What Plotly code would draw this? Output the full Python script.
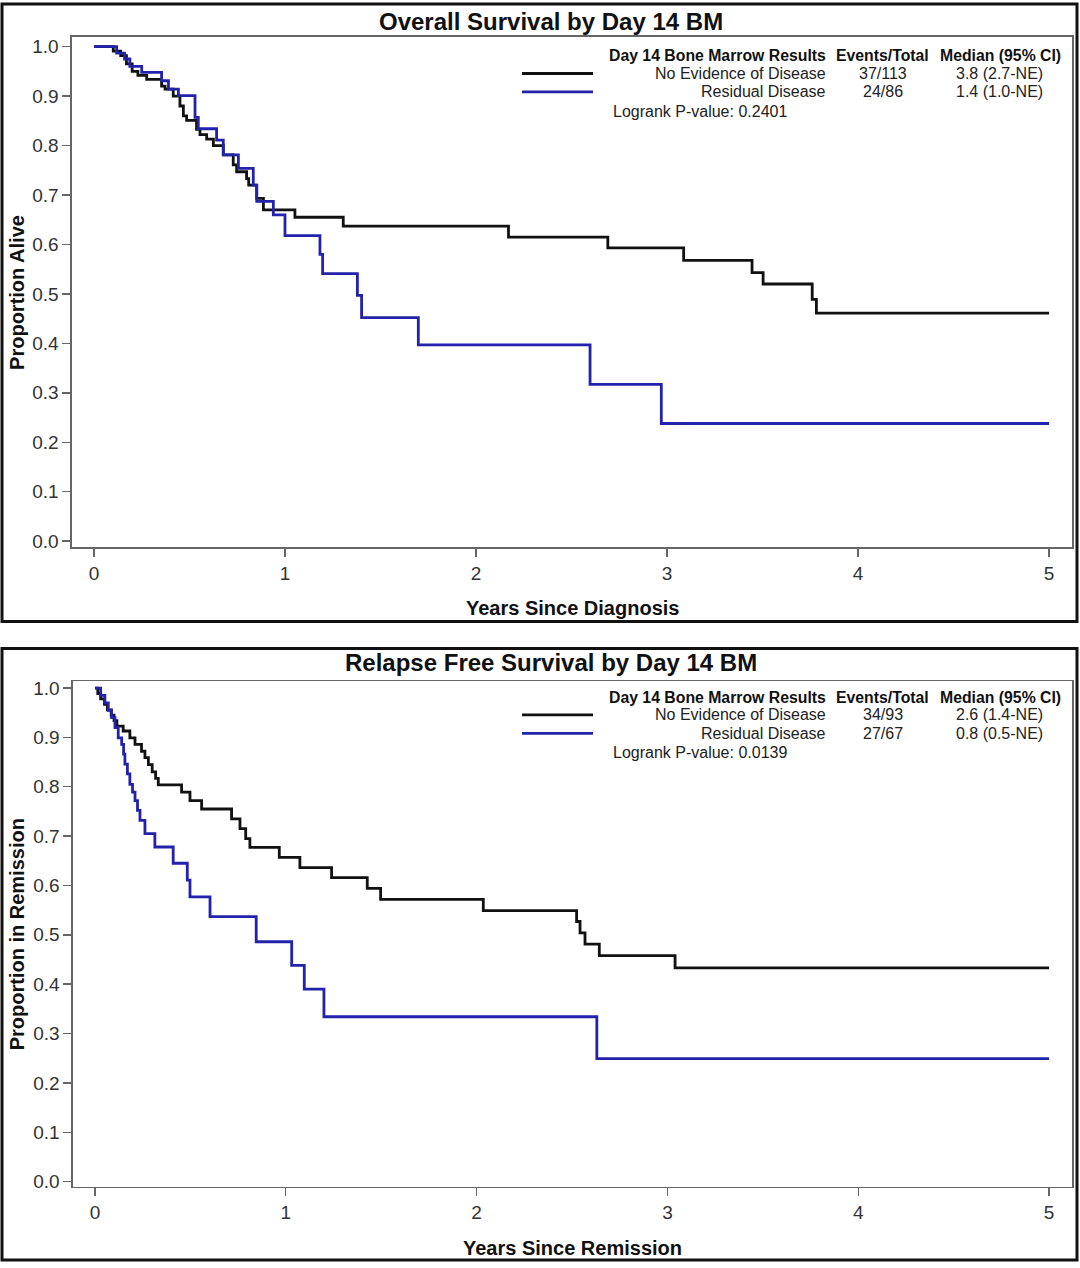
import plotly.graph_objects as go

W, H = 1080, 1268

# ---------------- data ----------------
os_no_t = [0.101, 0.140, 0.170, 0.200, 0.230, 0.276, 0.354, 0.372, 0.415, 0.450, 0.468, 0.485,
           0.537, 0.555, 0.590, 0.625, 0.677, 0.729, 0.747, 0.799, 0.810, 0.852, 0.887, 1.052,
           1.305, 2.170, 2.690, 3.087, 3.445, 3.503, 3.760, 3.782]
os_no_s = [0.991, 0.982, 0.965, 0.950, 0.942, 0.934, 0.920, 0.914, 0.900, 0.880, 0.860, 0.851,
           0.833, 0.822, 0.813, 0.800, 0.781, 0.761, 0.747, 0.733, 0.720, 0.693, 0.670, 0.655,
           0.637, 0.615, 0.593, 0.568, 0.543, 0.520, 0.489, 0.461]
os_res_t = [0.119, 0.160, 0.188, 0.250, 0.354, 0.390, 0.442, 0.529, 0.546, 0.642, 0.677, 0.756,
            0.834, 0.852, 0.939, 1.000, 1.183, 1.197, 1.379, 1.401, 1.698, 2.597, 2.970]
os_res_s = [0.987, 0.975, 0.960, 0.948, 0.931, 0.914, 0.901, 0.857, 0.834, 0.811, 0.781, 0.754,
            0.720, 0.687, 0.660, 0.618, 0.580, 0.541, 0.497, 0.452, 0.397, 0.317, 0.238]

rfs_no_t = [0.015, 0.030, 0.050, 0.065, 0.085, 0.100, 0.115, 0.148, 0.183, 0.210, 0.244, 0.262,
            0.280, 0.300, 0.318, 0.332, 0.454, 0.498, 0.559, 0.716, 0.760, 0.790, 0.812, 0.966,
            1.074, 1.240, 1.427, 1.497, 2.035, 2.524, 2.542, 2.568, 2.643, 3.040]
rfs_no_s = [0.989, 0.978, 0.967, 0.956, 0.945, 0.934, 0.923, 0.913, 0.899, 0.886, 0.872, 0.859,
            0.845, 0.830, 0.817, 0.804, 0.789, 0.772, 0.755, 0.735, 0.715, 0.695, 0.677, 0.657,
            0.636, 0.616, 0.594, 0.572, 0.549, 0.527, 0.504, 0.481, 0.458, 0.433]
rfs_res_t = [0.030, 0.052, 0.070, 0.087, 0.105, 0.122, 0.140, 0.150, 0.157, 0.170, 0.183, 0.197,
             0.210, 0.223, 0.236, 0.262, 0.314, 0.410, 0.484, 0.498, 0.603, 0.845, 1.031, 1.097,
             1.200, 2.630]
rfs_res_s = [0.985, 0.970, 0.955, 0.940, 0.920, 0.899, 0.886, 0.866, 0.846, 0.826, 0.805, 0.789,
             0.772, 0.752, 0.732, 0.705, 0.678, 0.645, 0.611, 0.577, 0.537, 0.486, 0.438, 0.390,
             0.334, 0.249]

x_end = 5.0
groups = ["No Evidence of Disease", "Residual Disease"]
os_events = ["37/113", "24/86"]
os_median = ["3.8 (2.7-NE)", "1.4 (1.0-NE)"]
os_p = "Logrank P-value: 0.2401"
rfs_events = ["34/93", "27/67"]
rfs_median = ["2.6 (1.4-NE)", "0.8 (0.5-NE)"]
rfs_p = "Logrank P-value: 0.0139"
titles = ["Overall Survival by Day 14 BM", "Relapse Free Survival by Day 14 BM"]
ytitles = ["Proportion Alive", "Proportion in Remission"]
xtitles = ["Years Since Diagnosis", "Years Since Remission"]
x_ticks = [0, 1, 2, 3, 4, 5]
y_ticks = [0.0, 0.1, 0.2, 0.3, 0.4, 0.5, 0.6, 0.7, 0.8, 0.9, 1.0]

BLACK = "#111111"
BLUE = "#2222aa"
FONT = "Liberation Sans, Arial, sans-serif"


def px(x):
    return x / W


def py(y):
    return 1 - y / H


def km(t, s):
    return [0] + list(t) + [x_end], [1.0] + list(s) + [s[-1]]


fig = go.Figure()

curves = [
    (os_no_t, os_no_s, BLACK, "x", "y"),
    (os_res_t, os_res_s, BLUE, "x", "y"),
    (rfs_no_t, rfs_no_s, BLACK, "x2", "y2"),
    (rfs_res_t, rfs_res_s, BLUE, "x2", "y2"),
]
for t, s, c, xa, ya in curves:
    xs, ys = km(t, s)
    fig.add_trace(go.Scatter(x=xs, y=ys, mode="lines", line=dict(color=c, width=2.8, shape="hv"),
                             xaxis=xa, yaxis=ya, showlegend=False, hoverinfo="skip"))

axis_common = dict(showgrid=False, zeroline=False, showline=True, mirror=True,
                   linecolor="#666666", linewidth=1.6, ticks="outside", ticklen=8,
                   tickwidth=1.4, tickcolor="#666666",
                   tickfont=dict(family=FONT, size=19, color="#333333"))

fig.update_layout(
    width=W, height=H, margin=dict(l=0, r=0, t=0, b=0),
    paper_bgcolor="white", plot_bgcolor="white",
    xaxis=dict(domain=[px(72), px(1072)], range=[-0.115, 5.12], tickvals=x_ticks, anchor="y",
               **axis_common),
    yaxis=dict(domain=[py(548), py(34)], range=[-0.012, 1.020], tickvals=y_ticks,
               tickformat=".1f", anchor="x", **axis_common),
    xaxis2=dict(domain=[px(73), px(1072)], range=[-0.115, 5.12], tickvals=x_ticks, anchor="y2",
                **axis_common),
    yaxis2=dict(domain=[py(1192), py(683)], range=[-0.010, 1.014], tickvals=y_ticks,
                tickformat=".1f", anchor="x2", **axis_common),
)

shapes = []
ann = []
# outer panel frames
for y0, y1 in [(1, 623), (650, 1266)]:
    shapes.append(dict(type="rect", xref="paper", yref="paper", x0=px(2), x1=px(1077),
                       y0=py(y1), y1=py(y0), line=dict(color="#111111", width=3)))


def text(x, y, s, size=15, bold=False, anchor="center", color="#222222", angle=0):
    ann.append(dict(x=px(x), y=py(y), xref="paper", yref="paper", text=(f"<b>{s}</b>" if bold else s),
                    showarrow=False, xanchor=anchor, yanchor="middle", textangle=angle,
                    font=dict(family=FONT, size=size, color=color)))


panels = [
    dict(title_y=19, leg_y=53, xt_y=609, ymid=292, events=os_events, median=os_median, p=os_p),
    dict(title_y=664, leg_y=699, xt_y=1254, ymid=938, events=rfs_events, median=rfs_median, p=rfs_p),
]
for i, p in enumerate(panels):
    text(551, p["title_y"], titles[i], size=24, bold=True, color="#111111")
    text(572, p["xt_y"], xtitles[i], size=20, bold=True, color="#111111")
    text(17, p["ymid"], ytitles[i], size=20, bold=True, color="#111111", angle=-90)
    ly = p["leg_y"]
    text(828, ly, "Day 14 Bone Marrow Results", size=15.8, bold=True, anchor="right", color="#111111")
    text(883, ly, "Events/Total", size=15.8, bold=True, color="#111111")
    text(1000, ly, "Median (95% CI)", size=15.8, bold=True, color="#111111")
    for j, (g, c) in enumerate(zip(groups, [BLACK, BLUE])):
        ry = ly + 18 + 18.5 * j
        text(828, ry, g, size=16, anchor="right")
        text(883, ry, p["events"][j], size=16)
        text(999, ry, p["median"][j], size=16)
        shapes.append(dict(type="line", xref="paper", yref="paper", x0=px(522), x1=px(593),
                           y0=py(ry), y1=py(ry), line=dict(color=c, width=2.8)))
    text(611, ly + 56, p["p"], size=16, anchor="left")

fig.update_layout(shapes=shapes, annotations=ann)
fig.write_html(
    "out.html",
    config={"displayModeBar": False, "staticPlot": True},
    post_script=(
        "document.documentElement.style.margin='0';document.documentElement.style.padding='0';"
        "document.documentElement.style.overflow='hidden';"
        "document.body.style.margin='0';document.body.style.padding='0';"
        "document.body.style.overflow='hidden';"
    ),
)
